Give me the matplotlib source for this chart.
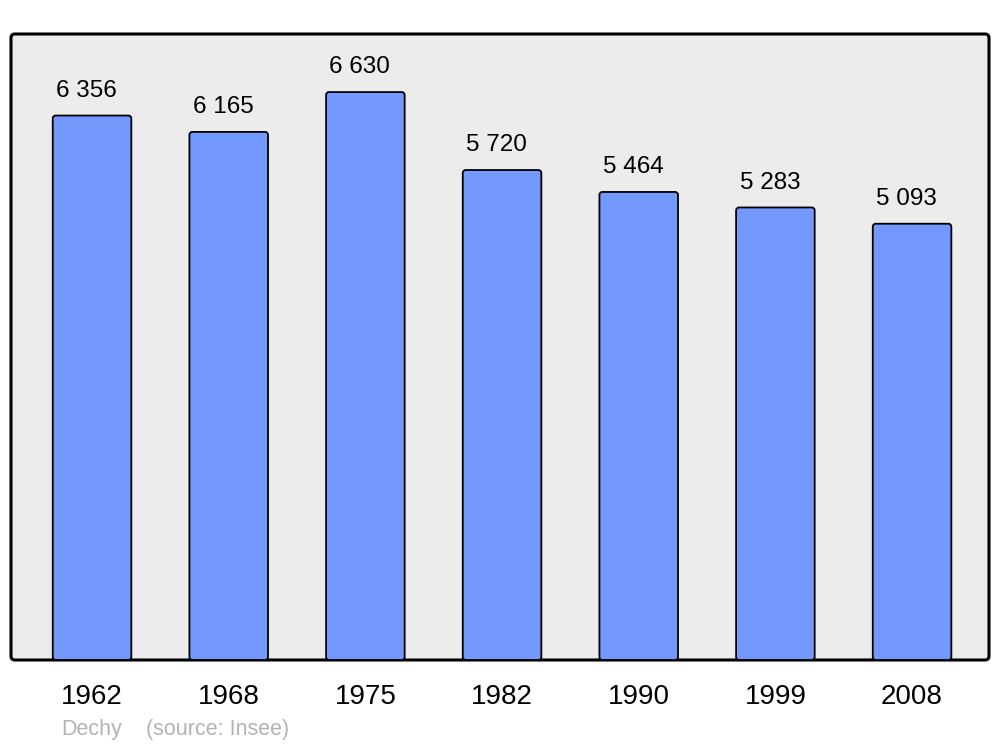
import matplotlib
matplotlib.use("Agg")
import matplotlib.pyplot as plt
from matplotlib.patches import FancyBboxPatch

# Population data (source: Insee)
years = ["1962", "1968", "1975", "1982", "1990", "1999", "2008"]
population = [6356, 6165, 6630, 5720, 5464, 5283, 5093]
commune = "Dechy"

plt.rcParams['font.family'] = ['Liberation Sans', 'DejaVu Sans']

fig = plt.figure(figsize=(10, 7.47), dpi=100)
ax = fig.add_axes([0.011, 1 - 660 / 747, 0.978, (660 - 34) / 747])
ax.set_facecolor("none")

x = list(range(len(years)))
x_lo, x_hi = -0.593, len(years) - 1 + 0.563
y_hi = 7308
ax.set_xlim(x_lo, x_hi)
ax.set_ylim(0, y_hi)

# data units per pixel, used to get round corners on bars
ax_w_px = 978
ax_h_px = 626
xu = (x_hi - x_lo) / ax_w_px
yu = y_hi / ax_h_px

bars = ax.bar(x, population, width=0.575, color="#7399ff", edgecolor="black", linewidth=1.3)
for b in bars:
    rb = FancyBboxPatch((b.get_x(), b.get_y()), b.get_width(), b.get_height(),
                        boxstyle=f"round,pad=0,rounding_size={3 * xu}",
                        mutation_aspect=yu / xu,
                        facecolor="#7399ff", edgecolor="black", linewidth=1.3, zorder=2)
    ax.add_patch(rb)
    b.set_visible(False)

# rounded frame with grey background
frame = FancyBboxPatch((0, 0), 1, 1, transform=ax.transAxes,
                       boxstyle=f"round,pad=0,rounding_size={4 / ax_w_px}",
                       mutation_aspect=ax_w_px / ax_h_px,
                       facecolor="#ececec", edgecolor="black", linewidth=2.2, zorder=0,
                       clip_on=False)
ax.add_patch(frame)

# Value labels above bars, French thousand separator
for xi, val in zip(x, population):
    label = f"{val:,}".replace(",", " ")
    ax.annotate(label, (xi, val), xytext=(-4, 10), textcoords="offset points",
                ha="center", va="bottom", fontsize=17.5)

ax.set_xticks(x)
ax.set_xticklabels(years, fontsize=20)
ax.tick_params(axis="x", length=0, pad=17)
ax.set_yticks([])

for s in ax.spines.values():
    s.set_visible(False)

fig.text(0.061, 1 - 730 / 747, commune, color="#b3b3b3", fontsize=15.5, va="center")
fig.text(0.146, 1 - 730 / 747, "(source: Insee)", color="#b3b3b3", fontsize=15.5, va="center")

fig.savefig("out.png", dpi=100)
